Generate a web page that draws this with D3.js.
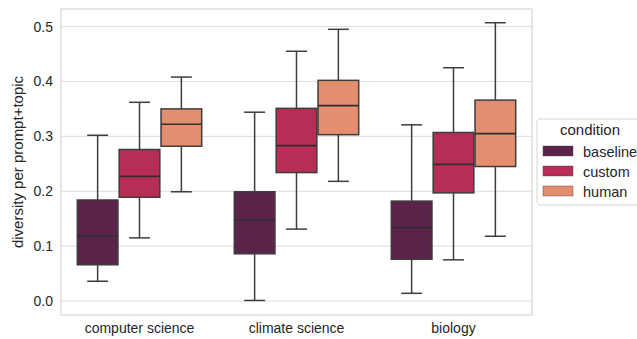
<!DOCTYPE html>
<html lang="en">
<head>
    <meta charset="UTF-8">
    <title>Diversity per prompt+topic</title>
    <script src="https://d3js.org/d3.v7.min.js"></script>
    <style>
        body { margin: 0; background: #fff; }
        text { font-family: "Liberation Sans", Arial, sans-serif; fill: #262626; }
    </style>
</head>
<body>
    <svg id="chart" width="637" height="339"></svg>

    <script>
        // topics on the x axis and the three conditions
        var topics = ["computer science", "climate science", "biology"];
        var conditions = ["baseline", "custom", "human"];
        var colors = ["#5b2349", "#b72d56", "#e38e6e"];
        var yTicks = [0.0, 0.1, 0.2, 0.3, 0.4, 0.5];

        // box stats per topic, one entry per condition: [low whisker, q1, median, q3, high whisker]
        var csStats      = [[0.036, 0.066, 0.119, 0.184, 0.302], [0.115, 0.189, 0.227, 0.276, 0.362], [0.199, 0.282, 0.322, 0.350, 0.408]];
        var climateStats = [[0.001, 0.086, 0.148, 0.199, 0.344], [0.131, 0.234, 0.283, 0.351, 0.455], [0.218, 0.303, 0.356, 0.402, 0.495]];
        var biologyStats = [[0.014, 0.076, 0.134, 0.182, 0.321], [0.075, 0.197, 0.249, 0.307, 0.425], [0.118, 0.245, 0.305, 0.366, 0.507]];

        var statsByTopic = [csStats, climateStats, biologyStats];
        var boxes = [];
        topics.forEach(function(t, i) {
            conditions.forEach(function(c, j) {
                var s = statsByTopic[i][j];
                boxes.push({topic: t, cond: c, lo: s[0], q1: s[1], med: s[2], q3: s[3], hi: s[4]});
            });
        });

        var svg = d3.select("#chart");
        // plot area (named so they don't clash with window.top)
        var pLeft = 61, pRight = 532, pTop = 9, pBottom = 315;

        var x = d3.scaleBand().domain(topics).range([pLeft, pRight]);
        var xInner = d3.scaleBand().domain(conditions)
            .range([0, x.bandwidth() * 0.8]);
        var y = d3.scaleLinear().domain([-0.0255, 0.532]).range([pBottom, pTop]);
        var color = d3.scaleOrdinal().domain(conditions).range(colors);

        // grid
        svg.append("g")
            .selectAll("line")
            .data(yTicks)
            .join("line")
            .attr("x1", pLeft).attr("x2", pRight)
            .attr("y1", d => y(d)).attr("y2", d => y(d))
            .attr("stroke", "#dcdcdc")
            .attr("stroke-width", 1);

        // frame
        svg.append("rect")
            .attr("x", pLeft).attr("y", pTop)
            .attr("width", pRight - pLeft).attr("height", pBottom - pTop)
            .attr("fill", "none")
            .attr("stroke", "#d6d6d6")
            .attr("stroke-width", 1.2);

        // y axis
        var yAxis = svg.append("g")
            .attr("transform", "translate(" + pLeft + ",0)")
            .call(d3.axisLeft(y).tickValues(yTicks).tickFormat(d3.format(".1f")).tickSize(0).tickPadding(8));
        yAxis.select(".domain").remove();
        yAxis.selectAll("text")
            .style("font-size", "14px")
            .style("font-family", "Liberation Sans, Arial, sans-serif")
            .attr("fill", "#262626");

        // x axis
        var xAxis = svg.append("g")
            .attr("transform", "translate(0," + pBottom + ")")
            .call(d3.axisBottom(x).tickSize(0).tickPadding(8));
        xAxis.select(".domain").remove();
        xAxis.selectAll("text")
            .style("font-size", "14px")
            .style("font-family", "Liberation Sans, Arial, sans-serif")
            .attr("fill", "#262626");

        svg.append("text")
            .attr("transform", "translate(23," + 162 + ") rotate(-90)")
            .attr("text-anchor", "middle")
            .style("font-size", "15px")
            .text("diversity per prompt+topic");

        // boxes
        var edge = "#3d3d3d";
        var g = svg.append("g")
            .selectAll("g")
            .data(boxes)
            .join("g")
            .attr("transform", d => "translate(" + (x(d.topic) + x.bandwidth() * 0.1 + xInner(d.cond)) + ",0)");

        var bw = xInner.bandwidth();
        var pad = 0.6;
        var capW = bw / 2;

        g.append("line")
            .attr("x1", bw / 2).attr("x2", bw / 2)
            .attr("y1", d => y(d.hi)).attr("y2", d => y(d.q3))
            .attr("stroke", edge).attr("stroke-width", 1.5);
        g.append("line")
            .attr("x1", bw / 2).attr("x2", bw / 2)
            .attr("y1", d => y(d.q1)).attr("y2", d => y(d.lo))
            .attr("stroke", edge).attr("stroke-width", 1.5);
        g.append("line")
            .attr("x1", bw / 2 - capW / 2).attr("x2", bw / 2 + capW / 2)
            .attr("y1", d => y(d.hi)).attr("y2", d => y(d.hi))
            .attr("stroke", edge).attr("stroke-width", 1.5);
        g.append("line")
            .attr("x1", bw / 2 - capW / 2).attr("x2", bw / 2 + capW / 2)
            .attr("y1", d => y(d.lo)).attr("y2", d => y(d.lo))
            .attr("stroke", edge).attr("stroke-width", 1.5);
        g.append("rect")
            .attr("x", pad).attr("width", bw - 2 * pad)
            .attr("y", d => y(d.q3))
            .attr("height", d => y(d.q1) - y(d.q3))
            .attr("fill", d => color(d.cond))
            .attr("stroke", edge).attr("stroke-width", 1.5);
        g.append("line")
            .attr("x1", pad).attr("x2", bw - pad)
            .attr("y1", d => y(d.med)).attr("y2", d => y(d.med))
            .attr("stroke", "#2e2e2e").attr("stroke-width", 1.6);

        // legend
        var lg = svg.append("g").attr("transform", "translate(537,119)");
        lg.append("rect")
            .attr("width", 110).attr("height", 86)
            .attr("rx", 3)
            .attr("fill", "#fff")
            .attr("stroke", "#d6d6d6");
        lg.append("text")
            .attr("x", 53).attr("y", 16)
            .attr("text-anchor", "middle")
            .style("font-size", "15px")
            .text("condition");
        var items = lg.selectAll(".item")
            .data(conditions)
            .join("g")
            .attr("class", "item")
            .attr("transform", (d, i) => "translate(6," + (27 + i * 20) + ")");
        items.append("rect")
            .attr("width", 30).attr("height", 10)
            .attr("fill", d => color(d))
            .attr("stroke", "#3d3d3d").attr("stroke-width", 0.4);
        items.append("text")
            .attr("x", 40).attr("y", 10.5)
            .style("font-size", "14.5px")
            .text(d => d);
    </script>
</body>
</html>
